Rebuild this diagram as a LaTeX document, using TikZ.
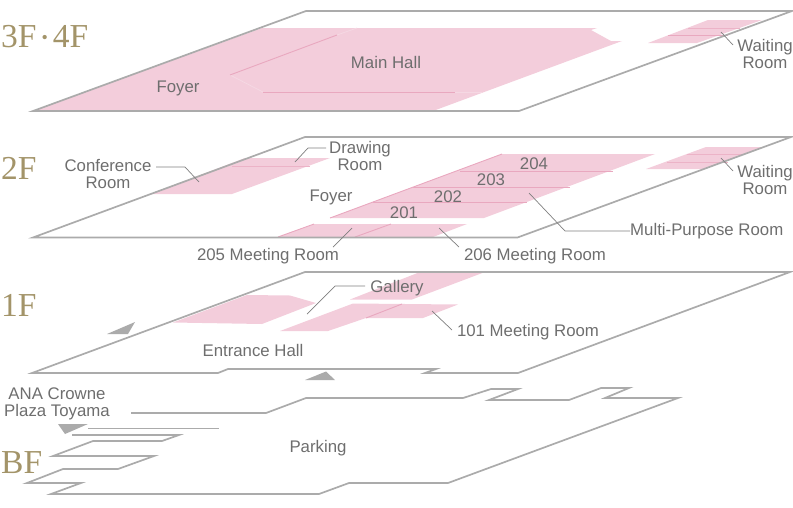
\documentclass[tikz,border=0pt]{standalone}
\usepackage{fontspec}
\setmainfont{Liberation Sans}
\newfontfamily\floorfont{Liberation Serif}
\definecolor{roompink}{HTML}{F3CDDB}
\definecolor{roomline}{HTML}{E9A8BF}
\definecolor{roomfaint}{HTML}{F5D8E3}
\definecolor{slabgray}{HTML}{ABABAB}
\definecolor{leadgray}{HTML}{7F7F7F}
\definecolor{labelgray}{HTML}{6E6E6E}
\definecolor{floorgold}{HTML}{A39469}
\tikzset{
  x=1pt,y=-1pt,
  room/.style={fill=roompink,draw=none},
  wall/.style={draw=roomline,line width=0.9pt},
  faintwall/.style={draw=roomfaint,line width=0.8pt},
  slab/.style={draw=slabgray,line width=1.7pt,line join=miter},
  leader/.style={draw=leadgray,line width=0.7pt},
  lbl/.style={text=labelgray,font=\fontsize{16.8}{17}\selectfont,inner sep=0pt,align=center,yshift=-1.3pt},
  flr/.style={text=floorgold,font=\floorfont\fontsize{33.5}{34}\selectfont,inner sep=0pt,anchor=west,yshift=-0.5pt},
  pointer/.style={fill=slabgray,draw=none}
}
\begin{document}
\begin{tikzpicture}
\useasboundingbox (0,0) rectangle (793,507);
% ---- 3F/4F
\fill[room] (33,111) -- (262,28) -- (597,28) -- (591,30) -- (611,41) -- (622,41) -- (433,111) -- cycle;
\fill[room] (648,43) -- (708,20) -- (762,20) -- (697,43) -- cycle;
\draw[faintwall] (357,28) -- (337,35);
\draw[faintwall] (230,75) -- (263,92);
\draw[faintwall] (455,92) -- (482,92);
\draw[wall] (337,35) -- (230,75);
\draw[wall] (263,92) -- (455,92);
\draw[wall,draw=roomline!70!roompink] (688,28) -- (740,28);
\draw[wall] (668,35) -- (728,35);
\draw[slab] (33,111) -- (306,11) -- (792,11) -- (519,111) -- cycle;
% ---- 2F
\fill[room] (150,194) -- (245,158) -- (330,158) -- (232,194) -- cycle;
\fill[room] (330,218) -- (502,154) -- (655,154) -- (484,218) -- cycle;
\fill[room] (646,169) -- (706,147) -- (763,147) -- (704,169) -- cycle;
\fill[room] (278,237) -- (314,224) -- (467,224) -- (433,237) -- cycle;
\draw[wall,draw=roomline!70!roompink] (232,166) -- (310,166);
\draw[wall] (330,218) -- (502,154);
\draw[wall] (460,171) -- (613,171);
\draw[wall] (413,187) -- (570,187);
\draw[wall] (373,202) -- (527,202);
\draw[wall,draw=roomline!70!roompink] (687,154) -- (743,154);
\draw[wall,draw=roomline!70!roompink] (667,162) -- (728,162);
\draw[wall] (278,237) -- (314,224);
\draw[wall] (355,237) -- (391,224);
\draw[slab] (33,237.5) -- (305,137) -- (791,137) -- (517.5,237.5) -- cycle;
% ---- 1F
\fill[room] (173,322.5) -- (247,295) -- (290,295.5) -- (316,303) -- (262,324) -- cycle;
\fill[room] (280,331) -- (353,303.5) -- (458,304.5) -- (423,318) -- (366,318) -- (328,331) -- cycle;
\fill[room] (350,299.5) -- (420,272) -- (485,272) -- (412,299.5) -- cycle;
\draw[wall] (366,318) -- (402,304);
\draw[slab] (32,373) -- (305,272) -- (790,272) -- (518,373) -- (425,373) -- (436,369) -- (228,369) -- (218,373) -- cycle;
\fill[pointer] (107,334) -- (135,322) -- (128,334) -- cycle;
\fill[pointer] (305,380) -- (326,371.5) -- (335,380) -- cycle;
% ---- BF
\draw[slab] (131,413) -- (266,413) -- (306,398) -- (463,398) -- (491,389) -- (518,389) -- (489,400) -- (569,400) -- (601,388) -- (629,388) -- (605,398) -- (678,398) -- (448,483) -- (349,483) -- (319,494) -- (51,494) -- (81,483) -- (27,483) -- (63,469) -- (118,469) -- (154,456) -- (53,456) -- (93,441) -- (162,441) -- (179,435) -- (72,435);
\draw[slab] (88,428.5) -- (219,428.5);
\fill[pointer] (58,424) -- (88,424) -- (65,434) -- cycle;
% ---- floor names
\node[flr] (f34) at (1,36) {3F\hspace{5pt}\raisebox{4pt}{\fontsize{18}{18}\selectfont •}\hspace{5pt}4F};
\node[flr] (f2) at (1,168) {2F};
\node[flr] (f1) at (1,305) {1F};
\node[flr] (fb) at (1,462) {BF};
% ---- labels
\node[lbl] (mainhall) at (386,61) {Main Hall};
\node[lbl] (foyer3) at (178,87) {Foyer};
\node[lbl] (wait3) at (765,52.7) {Waiting\\Room};
\node[lbl] (conf) at (108,172.7) {Conference\\Room};
\node[lbl] (draw2) at (360,154.7) {Drawing\\Room};
\node[lbl] (foyer2) at (331,196) {Foyer};
\node[lbl] (r204) at (534,162) {204};
\node[lbl] (r203) at (491,178) {203};
\node[lbl] (r202) at (448,195) {202};
\node[lbl] (r201) at (404,211) {201};
\node[lbl] (wait2) at (765,178.2) {Waiting\\Room};
\node[lbl] (m205) at (268,255) {205 Meeting Room};
\node[lbl] (m206) at (535,255) {206 Meeting Room};
\node[lbl,anchor=west] (mpr) at (630,230) {Multi-Purpose Room};
\node[lbl] (gallery) at (397,287) {Gallery};
\node[lbl] (m101) at (528,331) {101 Meeting Room};
\node[lbl] (entrance) at (253,349) {Entrance Hall};
\node[lbl] (ana) at (57,402.5) {ANA Crowne\\Plaza Toyama};
\node[lbl] (parking) at (318,447) {Parking};
% ---- leader ends
\coordinate (w3a) at (721,32);   \coordinate (w3b) at (733,45);
\coordinate (w2a) at (721,158);  \coordinate (w2b) at (733,171);
\coordinate (ca) at (156,167);   \coordinate (cb) at (185,167);  \coordinate (cc) at (199,182);
\coordinate (da) at (326,148);   \coordinate (db) at (308,148);  \coordinate (dc) at (295,162);
\coordinate (a5) at (352,228);   \coordinate (b5) at (333,247);
\coordinate (a6) at (439,228);   \coordinate (b6) at (459,247);
\coordinate (ma) at (529,193);   \coordinate (mb) at (565,231);  \coordinate (mc) at (630,231);
\coordinate (ga) at (365,286);   \coordinate (gb) at (335,286);  \coordinate (gc) at (307,314);
\coordinate (a1) at (432,311);   \coordinate (b1) at (452,330);
% ---- leaders
\draw[leader] (w3a) -- (w3b);
\draw[leader] (w2a) -- (w2b);
\draw[leader] (ca) -- (cb) -- (cc);
\draw[leader] (da) -- (db) -- (dc);
\draw[leader] (a5) -- (b5);
\draw[leader] (a6) -- (b6);
\draw[leader] (ma) -- (mb) -- (mc);
\draw[leader] (ga) -- (gb) -- (gc);
\draw[leader] (a1) -- (b1);
\end{tikzpicture}
\end{document}
